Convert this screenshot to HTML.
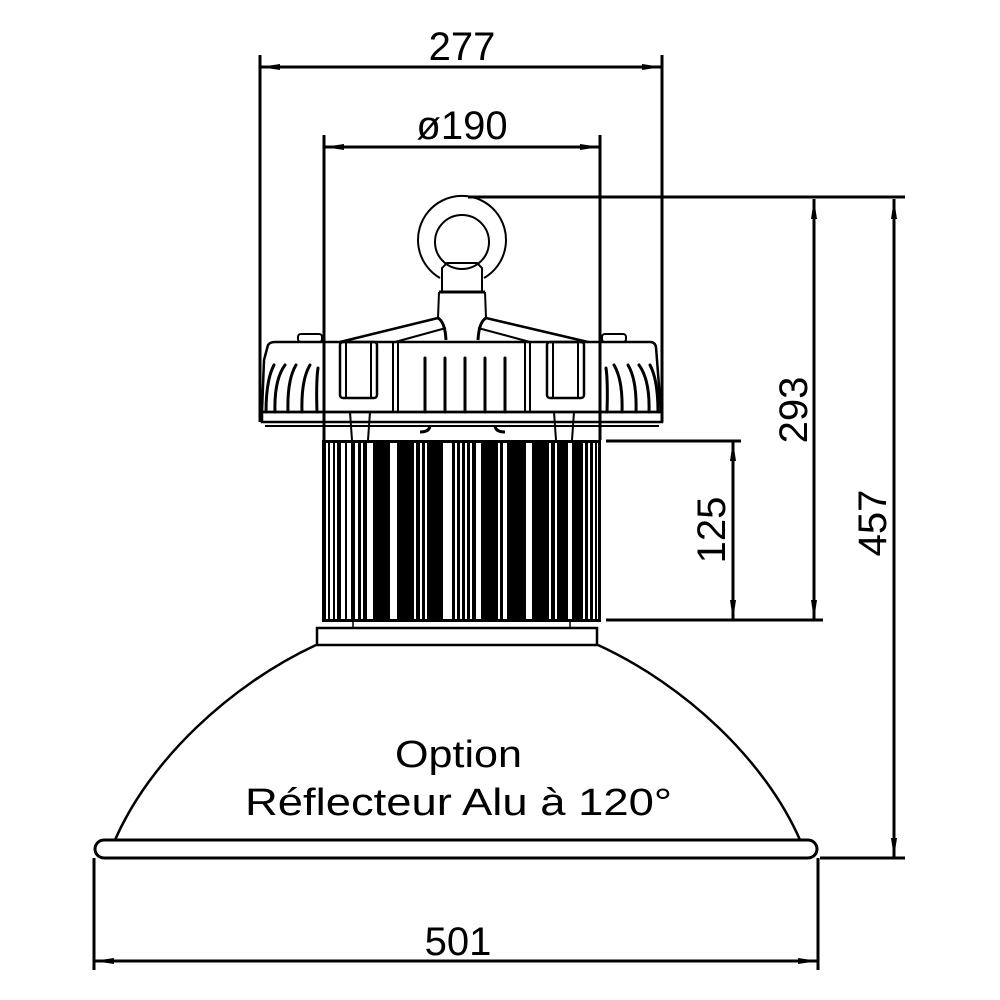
<!DOCTYPE html>
<html><head><meta charset="utf-8"><style>
html,body{margin:0;padding:0;background:#fff;}
svg{display:block;}
text{font-family:"Liberation Sans",sans-serif;fill:#000;}
</style></head><body>
<svg width="1000" height="1000" viewBox="0 0 1000 1000" xmlns="http://www.w3.org/2000/svg">
<defs>
<marker id="a" viewBox="0 0 20 6" refX="20" refY="3" markerWidth="20" markerHeight="6" markerUnits="userSpaceOnUse" orient="auto-start-reverse"><path d="M0,0 L20,3 L0,6 Z" fill="#000"/></marker>
</defs>
<g stroke="#000" fill="none" stroke-width="3">
<line x1="260" y1="55" x2="260" y2="422"/>
<line x1="662" y1="55" x2="662" y2="422"/>
<line x1="324" y1="135" x2="324" y2="440"/>
<line x1="600" y1="135" x2="600" y2="440"/>
<line x1="468" y1="197" x2="905" y2="197"/>
<line x1="606" y1="441" x2="741" y2="441"/>
<line x1="606" y1="620" x2="823" y2="620"/>
<line x1="820" y1="858" x2="905" y2="858"/>
<line x1="94" y1="858" x2="94" y2="970"/>
<line x1="818" y1="858" x2="818" y2="970"/>
<line x1="260" y1="67" x2="662" y2="67" marker-start="url(#a)" marker-end="url(#a)"/>
<line x1="324" y1="147" x2="600" y2="147" marker-start="url(#a)" marker-end="url(#a)"/>
<line x1="814" y1="199" x2="814" y2="620" marker-start="url(#a)" marker-end="url(#a)"/>
<line x1="894" y1="199" x2="894" y2="858" marker-start="url(#a)" marker-end="url(#a)"/>
<line x1="733" y1="441" x2="733" y2="620" marker-start="url(#a)" marker-end="url(#a)"/>
<line x1="94" y1="961" x2="818" y2="961" marker-start="url(#a)" marker-end="url(#a)"/>
</g>
<g stroke="#000" fill="none" stroke-width="2">
<path d="M440,278 A44,44 0 1 1 484,278"/>
<circle cx="462" cy="242" r="27"/>
<path d="M442,292 L442,268 L447,263 L477,263 L482,268 L482,292 Z"/>
<line x1="439" y1="292" x2="485" y2="292" stroke-width="3"/>
<path d="M439,292 L438,318 M485,292 L486,318"/>
<path d="M438,318 Q445,322 446,340 M486,318 Q479,322 478,340" stroke-width="3"/>
<path d="M438,318 L340,342 M486,318 L588,342" stroke-width="2.5"/>
<path d="M446,328 L395,342 M478,328 L530,342"/>
<path d="M262,412 L264,360 L268,345 Q270,342 275,342 L650,342 Q655,342 656,347 L661,412 Z" stroke-width="2.5"/>
<rect x="262" y="412" width="400" height="10" stroke-width="2.5"/>
<line x1="265" y1="426" x2="659" y2="426" stroke-width="2"/>
<rect x="298" y="334" width="24" height="8" rx="3"/>
<rect x="602" y="334" width="24" height="8" rx="3"/>
<rect x="393" y="342" width="137" height="70"/>
<line x1="398" y1="342" x2="398" y2="412"/><line x1="525" y1="342" x2="525" y2="412"/>
<rect x="340" y="342" width="37" height="56" rx="3" stroke-width="2.5"/>
<rect x="547" y="342" width="37" height="56" rx="3" stroke-width="2.5"/>
<line x1="346" y1="342" x2="346" y2="398"/><line x1="371" y1="342" x2="371" y2="398"/>
<line x1="553" y1="342" x2="553" y2="398"/><line x1="578" y1="342" x2="578" y2="398"/>
<path d="M350,412 L352,440 M370,412 L368,440 M554,412 L556,440 M574,412 L572,440"/>
<path d="M420,432 Q430,432 430,425 M505,432 Q495,432 495,425" stroke-width="3"/>
</g>
<g stroke="#000" stroke-width="3" fill="none" stroke-linecap="round">
<path d="M425,412 L425,358 M445,412 L445,358 M465,412 L465,358 M485,412 L485,358 M505,412 L505,358"/>
<path d="M266,412 Q266,380 274,365 M275,412 Q274,380 285,365 M288,412 Q287,380 296,365 M302,412 Q301,380 310,365 M317,412 Q316,382 318,368"/>
<path d="M658,412 Q658,380 650,365 M649,412 Q650,380 639,365 M636,412 Q637,380 628,365 M622,412 Q623,380 614,365 M607,412 Q608,382 606,368"/>
</g>
<g>
<rect x="323" y="441" width="277" height="180" fill="#fff" stroke="#000" stroke-width="2"/>
<g fill="#000">
<rect x="323" y="441" width="3" height="180"/><rect x="328" y="441" width="2" height="180"/><rect x="333" y="441" width="2" height="180"/><rect x="337" y="441" width="4" height="180"/>
<rect x="345" y="441" width="2" height="180"/><rect x="351" y="441" width="4" height="180"/><rect x="358" y="441" width="3" height="180"/><rect x="363" y="441" width="4" height="180"/>
<rect x="373" y="441" width="17" height="180"/><rect x="397" y="441" width="17" height="180"/><rect x="416" y="441" width="4" height="180"/>
<rect x="422" y="441" width="3" height="180"/><rect x="427" y="441" width="16" height="180"/>
<rect x="452" y="441" width="3" height="180"/><rect x="457" y="441" width="3" height="180"/><rect x="462" y="441" width="3" height="180"/><rect x="467" y="441" width="3" height="180"/>
<rect x="472" y="441" width="4" height="180"/><rect x="481" y="441" width="17" height="180"/><rect x="500" y="441" width="3" height="180"/>
<rect x="507" y="441" width="19" height="180"/><rect x="532" y="441" width="17" height="180"/><rect x="551" y="441" width="4" height="180"/>
<rect x="557" y="441" width="11" height="180"/><rect x="572" y="441" width="11" height="180"/><rect x="585" y="441" width="3" height="180"/><rect x="590" y="441" width="3" height="180"/><rect x="595" y="441" width="2" height="180"/><rect x="598" y="441" width="2" height="180"/>
<rect x="323" y="440" width="277" height="3"/><rect x="323" y="619" width="277" height="3"/>
</g>
</g>
<g stroke="#000" fill="none">
<rect x="317" y="628" width="280" height="17" stroke-width="2.5"/>
<line x1="353" y1="621" x2="353" y2="628" stroke-width="1.5"/><line x1="570" y1="621" x2="570" y2="628" stroke-width="1.5"/>
<path d="M115,840 C150,760 230,685 316,645" stroke-width="2.5"/>
<path d="M800,840 C765,760 685,685 598,645" stroke-width="2.5"/>
<path d="M104,840 L808,840 A9,9 0 0 1 808,858 L104,858 A9,9 0 0 1 104,840 Z" stroke-width="3"/>
</g>
<text x="462" y="60" font-size="40" text-anchor="middle">277</text>
<text x="462" y="139" font-size="40" text-anchor="middle">ø190</text>
<text x="458" y="955" font-size="40" text-anchor="middle">501</text>
<text transform="translate(807,410) rotate(-90)" font-size="40" text-anchor="middle">293</text>
<text transform="translate(886,523) rotate(-90)" font-size="40" text-anchor="middle">457</text>
<text transform="translate(725,530) rotate(-90)" font-size="40" text-anchor="middle">125</text>
<text x="395" y="767" font-size="38" textLength="127" lengthAdjust="spacingAndGlyphs">Option</text>
<text x="245" y="815" font-size="38" textLength="427" lengthAdjust="spacingAndGlyphs">Réflecteur Alu à 120°</text>
</svg>
</body></html>
